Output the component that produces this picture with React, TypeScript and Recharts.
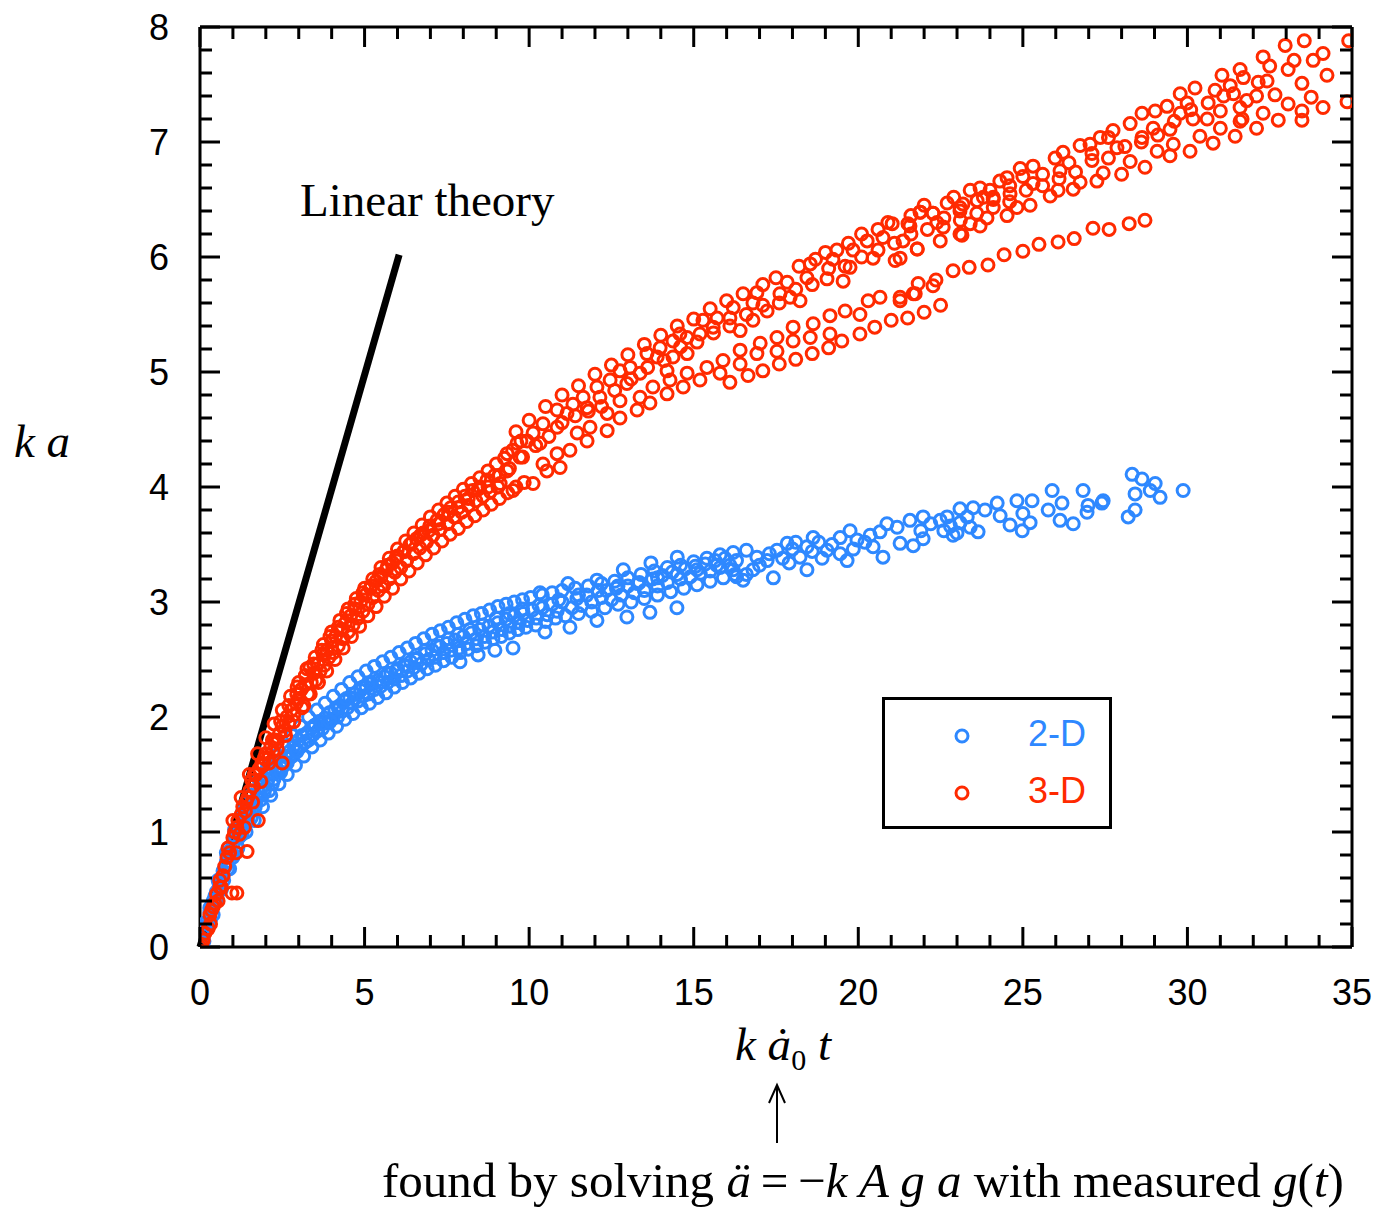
import React from 'react';
import { ScatterChart, Scatter, XAxis, YAxis, ReferenceLine, Legend } from 'recharts';

// axis ticks
const X_MAJOR = [0, 5, 10, 15, 20, 25, 30, 35];
const Y_MAJOR = [0, 1, 2, 3, 4, 5, 6, 7, 8];
const X_TICKS = Array.from({ length: 36 }, (_, i) => i);
const Y_TICKS = Array.from({ length: 41 }, (_, i) => Math.round(i * 2) / 10);

const SERIES_NAMES = ['2-D', '3-D'];
const COLORS = ['#2e88ff', '#ff2a00'];

// linear theory segment (k a = k a0 t)
const LINEAR_THEORY = [
  { x: 0, y: 0 },
  { x: 6.05, y: 6.02 },
];

// 2-D runs
const DATA_2D: [number, number][] = [
  [0, 0], [0.05, 0.04], [0.1, 0.1], [0.12, 0.05], [0.18, 0.16], [0.2, 0.22], [0.25, 0.2], [0.3, 0.3], [0.32, 0.24],
  [0.38, 0.36], [0.4, 0.4], [0.45, 0.38], [0.5, 0.48], [0.52, 0.42], [0.58, 0.55], [0.6, 0.5], [0.65, 0.6], [0.7, 0.66],
  [0.72, 0.58], [0.78, 0.7], [0.8, 0.74], [0.85, 0.68], [0.9, 0.8], [0.95, 0.85], [1.0, 0.78], [1.02, 0.9], [1.08, 0.95],
  [1.12, 0.88], [1.18, 1.0], [1.22, 1.04], [1.28, 0.98], [1.32, 1.1], [1.4, 1.08], [1.45, 1.16], [1.5, 1.2], [1.55, 1.12],
  [1.62, 1.26], [1.68, 1.22], [1.72, 1.3], [1.8, 1.34], [1.85, 1.28], [1.9, 1.4], [1.98, 1.38], [2.05, 1.45], [2.1, 1.36],
  [2.18, 1.5], [2.25, 1.46], [2.3, 1.55], [2.38, 1.52], [2.45, 1.6], [2.5, 1.56], [2.58, 1.66], [2.65, 1.6], [2.72, 1.7],
  [2.8, 1.66], [2.85, 1.75], [2.92, 1.72], [3.0, 1.8], [3.05, 1.74],
  [3.1, 1.84], [3.18, 1.78], [3.25, 1.86], [3.3, 1.8], [3.38, 1.9], [3.45, 1.85], [3.5, 1.93], [3.58, 1.88], [3.65, 1.96],
  [3.72, 1.9], [3.8, 1.99], [3.88, 1.95], [3.95, 2.04], [4.0, 1.98], [4.1, 2.06], [4.18, 2.0], [4.25, 2.1], [4.32, 2.05],
  [4.4, 2.14], [4.48, 2.08], [4.55, 2.17], [4.62, 2.12], [4.7, 2.2], [4.8, 2.14], [4.88, 2.23], [4.95, 2.18], [5.05, 2.26],
  [5.12, 2.2], [5.2, 2.29], [5.3, 2.24], [5.4, 2.32], [5.5, 2.27], [5.6, 2.35], [5.7, 2.3], [5.8, 2.38], [5.9, 2.33],
  [6.0, 2.42], [6.1, 2.36], [6.2, 2.45], [6.3, 2.4], [6.4, 2.48], [6.5, 2.43], [6.6, 2.51], [6.72, 2.46], [6.85, 2.55],
  [6.95, 2.5], [7.05, 2.58], [7.15, 2.52], [7.28, 2.61], [7.4, 2.56], [7.5, 2.64], [7.62, 2.58], [7.75, 2.67], [7.88, 2.6],
  [7.9, 2.48], [8.0, 2.7],
  [8.12, 2.64], [8.25, 2.73], [8.4, 2.68], [8.5, 2.76], [8.45, 2.54], [8.65, 2.7], [8.78, 2.79], [8.9, 2.74], [8.96, 2.58],
  [9.05, 2.82], [9.18, 2.76], [9.3, 2.85], [9.42, 2.79], [9.51, 2.6], [9.55, 2.88], [9.7, 2.82], [9.82, 2.9], [9.95, 2.84],
  [10.1, 2.93], [10.22, 2.86], [10.33, 3.08], [10.4, 2.95], [10.48, 2.74], [10.55, 2.89], [10.7, 2.98], [10.85, 2.92],
  [11.0, 3.0], [11.18, 3.16], [11.24, 2.78], [11.3, 2.95], [11.45, 3.03], [11.6, 2.97], [11.75, 3.06], [11.9, 3.0],
  [12.06, 3.19], [12.06, 2.84], [12.2, 3.04], [12.35, 3.1], [12.5, 3.02], [12.65, 3.12], [12.86, 3.28], [12.8, 3.06],
  [12.97, 2.87], [13.0, 3.14], [13.2, 3.08], [13.35, 3.17], [13.5, 3.1], [13.67, 2.91], [13.7, 3.34], [13.75, 3.2],
  [13.9, 3.14], [14.05, 3.23], [14.2, 3.17], [14.35, 3.26], [14.49, 2.95], [14.5, 3.39], [14.6, 3.2], [14.75, 3.29],
  [14.9, 3.22], [15.05, 3.31], [15.2, 3.25], [15.35, 3.33], [15.5, 3.27], [15.65, 3.36], [15.8, 3.3], [15.95, 3.38],
  [16.1, 3.32], [16.25, 3.24], [16.2, 3.28], [16.6, 3.24],
  [16.5, 3.19], [16.8, 3.28], [16.92, 3.39], [17.0, 3.32], [17.23, 3.36], [17.3, 3.42], [17.42, 3.21], [17.53, 3.45],
  [17.7, 3.38], [17.84, 3.51], [17.9, 3.34], [18.0, 3.46], [18.1, 3.52], [18.23, 3.39], [18.44, 3.28], [18.44, 3.48],
  [18.6, 3.44], [18.63, 3.56], [18.8, 3.52], [18.9, 3.38], [19.05, 3.45], [19.2, 3.5], [19.45, 3.42], [19.45, 3.56],
  [19.66, 3.36], [19.75, 3.62], [19.85, 3.46], [19.96, 3.54], [20.2, 3.52], [20.36, 3.58], [20.45, 3.48], [20.66, 3.61],
  [20.75, 3.39], [20.87, 3.68], [21.18, 3.65], [21.27, 3.51], [21.57, 3.71], [21.67, 3.49], [21.9, 3.62], [21.97, 3.55],
  [21.97, 3.74], [22.2, 3.68], [22.49, 3.71], [22.6, 3.62], [22.7, 3.74], [22.8, 3.66], [22.88, 3.58], [23.0, 3.6],
  [23.09, 3.69], [23.09, 3.81], [23.31, 3.74], [23.4, 3.65], [23.49, 3.82], [23.64, 3.61], [23.85, 3.8], [24.22, 3.86],
  [24.31, 3.75], [24.61, 3.67], [24.82, 3.88], [24.98, 3.62], [25.0, 3.77], [25.22, 3.69], [25.28, 3.88], [25.77, 3.8],
  [25.89, 3.97], [26.13, 3.71], [26.19, 3.86], [26.53, 3.68], [26.83, 3.97], [26.95, 3.78], [26.98, 3.84], [27.4, 3.86],
  [27.44, 3.88], [28.2, 3.74], [28.32, 4.11], [28.41, 3.8], [28.41, 3.94], [28.62, 4.07], [28.87, 3.97], [29.02, 4.03],
  [29.17, 3.91], [29.87, 3.97],
  // upper edge of the band
  [0.3, 0.34], [0.55, 0.58], [0.8, 0.82], [1.05, 1.02], [1.3, 1.18], [1.55, 1.32], [1.8, 1.45], [2.05, 1.56], [2.3, 1.66],
  [2.55, 1.75], [2.8, 1.84], [3.05, 1.92], [3.3, 2.0], [3.55, 2.06], [3.8, 2.12], [4.05, 2.18], [4.3, 2.24], [4.55, 2.3],
  [4.8, 2.35], [5.05, 2.4], [5.3, 2.44], [5.55, 2.48], [5.8, 2.52], [6.05, 2.56], [6.3, 2.6], [6.55, 2.64], [6.8, 2.68],
  [7.05, 2.72], [7.3, 2.75], [7.55, 2.78], [7.8, 2.82], [8.05, 2.85], [8.3, 2.88], [8.55, 2.9], [8.8, 2.93], [9.05, 2.96],
  [9.3, 2.98], [9.55, 3.0], [9.8, 3.02], [10.05, 3.04], [10.4, 3.06], [10.7, 3.08], [11.0, 3.1], [11.4, 3.12],
  [11.8, 3.14], [12.2, 3.16], [12.6, 3.18], [13.0, 3.21], [13.4, 3.24], [13.8, 3.27], [14.2, 3.3], [14.6, 3.32],
  [15.0, 3.35], [15.4, 3.38], [15.8, 3.41], [16.2, 3.43], [16.6, 3.45],
  // lower edge of the band
  [0.4, 0.28], [0.65, 0.5], [0.9, 0.68], [1.15, 0.86], [1.4, 1.0], [1.65, 1.1], [1.9, 1.22], [2.15, 1.32], [2.4, 1.42],
  [2.65, 1.5], [2.9, 1.58], [3.15, 1.66], [3.4, 1.74], [3.65, 1.8], [3.9, 1.86], [4.15, 1.92], [4.4, 1.98], [4.65, 2.03],
  [4.9, 2.08], [5.15, 2.12], [5.4, 2.17], [5.65, 2.21], [5.9, 2.26], [6.15, 2.3], [6.4, 2.34], [6.65, 2.38], [6.9, 2.42],
  [7.15, 2.45], [7.4, 2.49], [7.65, 2.52], [7.9, 2.56], [8.15, 2.59], [8.4, 2.62], [8.65, 2.65], [8.9, 2.68], [9.15, 2.7],
  [9.4, 2.73], [9.65, 2.76], [9.9, 2.78], [10.2, 2.8], [10.5, 2.83], [10.8, 2.86], [11.1, 2.88], [11.5, 2.9], [11.9, 2.92],
  [12.3, 2.95], [12.7, 2.98], [13.1, 3.0], [13.5, 3.03], [13.9, 3.06], [14.3, 3.09], [14.7, 3.12], [15.1, 3.15],
  [15.5, 3.18], [15.9, 3.21], [16.3, 3.22],
  // middle of the band
  [0.2, 0.16], [0.45, 0.44], [0.7, 0.62], [0.95, 0.8], [1.2, 0.96], [1.45, 1.1], [1.7, 1.26], [1.95, 1.34], [2.2, 1.42],
  [2.45, 1.52], [2.7, 1.64], [2.95, 1.7], [3.2, 1.78], [3.45, 1.92], [3.7, 1.94], [3.95, 1.96], [4.2, 2.08], [4.45, 2.16],
  [4.7, 2.16], [4.95, 2.26], [5.2, 2.3], [5.45, 2.3], [5.7, 2.38], [5.95, 2.4], [6.25, 2.44], [6.55, 2.5], [6.85, 2.58],
  [7.2, 2.62], [7.55, 2.68], [7.85, 2.72], [8.2, 2.76], [8.6, 2.8], [9.0, 2.86], [9.4, 2.9], [9.8, 2.94], [10.3, 2.97],
  [10.9, 3.02], [11.5, 3.06], [12.1, 3.1], [12.7, 3.14], [13.3, 3.16], [13.9, 3.21], [14.5, 3.24], [15.1, 3.28],
  [15.7, 3.32], [16.3, 3.36],
];

// 3-D runs
const DATA_3D: [number, number][] = [
  [0, 0], [0.05, 0.02], [0.1, 0.06], [0.15, 0.12], [0.25, 0.16], [0.3, 0.28], [0.32, 0.2], [0.4, 0.35], [0.45, 0.38],
  [0.5, 0.46], [0.55, 0.4], [0.6, 0.58], [0.65, 0.52], [0.7, 0.62], [0.75, 0.7], [0.82, 0.78], [0.9, 0.82], [0.97, 0.47],
  [1.12, 0.47], [1.0, 0.95], [1.05, 1.0], [1.12, 1.04], [1.2, 0.98], [1.25, 1.15], [1.3, 1.22], [1.38, 1.18], [1.43, 0.83],
  [1.45, 1.3], [1.52, 1.36], [1.57, 1.45], [1.62, 1.4], [1.7, 1.5], [1.77, 1.1], [1.8, 1.55], [1.88, 1.6], [1.92, 1.58],
  [2.0, 1.68], [2.08, 1.64], [2.15, 1.74], [2.22, 1.7], [2.28, 1.8], [2.35, 1.78], [2.42, 1.86], [2.5, 1.6], [2.5, 1.92],
  [2.58, 1.88], [2.64, 2.0], [2.7, 1.95], [2.78, 2.06], [2.85, 2.02], [2.94, 2.2], [2.92, 2.12], [3.0, 2.16],
  [3.08, 2.24], [3.15, 2.1], [3.2, 2.28], [3.28, 2.2], [3.34, 2.43], [3.38, 2.3], [3.45, 2.38], [3.52, 2.32], [3.58, 2.46],
  [3.65, 2.4], [3.74, 2.55], [3.78, 2.45], [3.85, 2.58], [3.92, 2.52], [4.0, 2.66], [4.05, 2.56], [4.12, 2.7], [4.2, 2.62],
  [4.28, 2.76], [4.35, 2.68], [4.42, 2.82], [4.5, 2.74], [4.58, 2.88], [4.65, 2.8], [4.72, 2.94], [4.8, 2.86], [4.88, 3.0],
  [4.95, 2.92], [5.02, 3.06], [5.1, 2.98], [5.18, 3.12], [5.25, 3.04], [5.35, 3.18], [5.42, 3.1], [5.5, 3.22], [5.58, 3.14],
  [5.66, 3.28], [5.75, 3.2], [5.85, 3.34], [5.92, 3.26], [6.0, 3.4], [6.1, 3.3], [6.2, 3.44], [6.28, 3.36], [6.38, 3.5],
  [6.48, 3.42], [6.58, 3.55], [6.68, 3.47], [6.78, 3.6], [6.88, 3.52], [6.98, 3.66], [7.08, 3.58], [7.2, 3.71], [7.3, 3.63],
  [7.42, 3.76], [7.52, 3.68], [7.62, 3.82], [7.72, 3.74], [7.85, 3.87], [7.95, 3.78], [8.05, 3.92], [8.15, 3.84],
  [8.28, 3.97], [8.38, 3.88], [8.5, 4.0], [8.6, 3.92], [8.72, 4.06], [8.82, 3.96], [8.95, 4.1], [9.05, 4.0],
  // upper edge, early times
  [1.0, 1.1], [1.25, 1.3], [1.5, 1.5], [1.75, 1.68], [2.0, 1.82], [2.25, 1.94], [2.5, 2.06], [2.75, 2.18], [3.0, 2.3],
  [3.25, 2.42], [3.5, 2.52], [3.75, 2.63], [4.0, 2.74], [4.25, 2.84], [4.5, 2.94], [4.75, 3.03], [5.0, 3.12], [5.25, 3.2],
  [5.5, 3.3], [5.75, 3.38], [6.0, 3.46], [6.25, 3.53], [6.5, 3.6], [6.75, 3.67], [7.0, 3.74], [7.25, 3.8], [7.5, 3.86],
  [7.75, 3.92], [8.0, 3.98], [8.25, 4.03], [8.5, 4.08], [8.75, 4.14], [9.0, 4.2], [9.25, 4.25], [9.5, 4.32], [9.75, 4.4],
  // lower edge, early times
  [1.1, 0.82], [1.35, 1.04], [1.6, 1.26], [1.85, 1.44], [2.1, 1.6], [2.35, 1.72], [2.6, 1.84], [2.85, 1.96], [3.1, 2.08],
  [3.35, 2.2], [3.6, 2.3], [3.85, 2.4], [4.1, 2.5], [4.35, 2.6], [4.6, 2.7], [4.85, 2.79], [5.1, 2.88], [5.35, 2.96],
  [5.6, 3.05], [5.85, 3.12], [6.1, 3.2], [6.35, 3.27], [6.6, 3.34], [6.85, 3.41], [7.1, 3.47], [7.35, 3.53], [7.6, 3.59],
  [7.85, 3.64], [8.1, 3.7], [8.35, 3.75], [8.6, 3.8], [8.85, 3.85], [9.1, 3.9], [9.35, 3.95], [9.6, 4.0], [9.85, 4.04],
  // middle of the band
  [0.35, 0.32], [0.6, 0.52], [0.85, 0.86], [1.15, 1.1], [1.4, 1.26], [1.65, 1.5], [1.95, 1.64], [2.2, 1.8], [2.45, 1.96],
  [2.7, 2.1], [2.95, 2.26], [3.2, 2.36], [3.45, 2.46], [3.7, 2.58], [3.95, 2.7], [4.2, 2.78], [4.45, 2.9], [4.7, 2.98],
  [4.95, 3.08], [5.2, 3.14], [5.45, 3.24], [5.7, 3.32], [5.95, 3.38], [6.2, 3.44], [6.45, 3.52], [6.7, 3.58], [6.95, 3.62],
  [7.25, 3.68], [7.55, 3.78], [7.85, 3.82], [8.15, 3.9], [8.45, 3.98], [8.75, 4.0], [9.1, 4.1], [9.4, 4.16], [9.8, 4.26],
  [10.2, 4.36], [10.6, 4.44], [11.0, 4.56], [11.4, 4.62], [11.8, 4.66], [12.2, 4.7], [12.6, 4.84], [13.1, 4.94],
  [13.6, 5.04], [14.1, 5.1], [14.6, 5.22], [15.1, 5.26], [15.6, 5.34], [16.1, 5.4], [16.6, 5.5], [17.1, 5.58], [17.6, 5.6],
  [18.1, 5.72], [18.6, 5.76], [19.1, 5.9], [19.6, 5.92], [20.1, 6.0], [20.6, 6.06], [21.1, 6.12], [21.6, 6.2], [22.1, 6.24],
  [22.6, 6.34], [23.1, 6.32], [23.6, 6.38], [24.1, 6.5], [24.6, 6.48], [25.1, 6.58], [25.6, 6.62], [26.1, 6.68],
  [26.6, 6.74], [27.1, 6.9], [27.6, 6.86], [28.1, 6.96], [28.6, 7.0], [29.1, 7.06], [29.6, 7.18], [30.1, 7.28],
  [30.6, 7.2], [31.1, 7.4], [31.6, 7.3], [32.1, 7.4],
  // upper band
  [9.12, 4.03], [9.33, 4.29], [9.33, 4.14], [9.51, 3.97], [9.6, 4.48], [9.63, 4.38], [9.72, 4.26], [9.94, 4.4], [10.0, 4.58],
  [10.12, 4.47], [10.12, 4.03], [10.33, 4.38], [10.42, 4.55], [10.5, 4.7], [10.54, 4.14], [10.85, 4.67], [10.85, 4.52],
  [11.0, 4.8], [11.15, 4.64], [11.33, 4.72], [11.5, 4.88], [11.64, 4.78], [11.76, 4.69], [12.0, 4.98], [12.06, 4.87],
  [12.15, 4.78], [12.46, 4.93], [12.5, 5.06], [12.76, 5.01], [12.97, 4.9], [13.0, 5.15], [13.07, 5.04], [13.37, 4.99],
  [13.5, 5.24], [13.58, 5.16], [13.89, 5.13], [13.98, 5.21], [14.0, 5.32], [14.19, 5.01], [14.37, 5.27], [14.37, 5.13],
  [14.5, 5.4], [14.58, 5.33], [14.8, 5.3], [14.8, 5.16], [15.0, 5.46], [15.19, 5.33], [15.28, 5.45], [15.5, 5.55],
  [15.59, 5.39], [15.71, 5.47], [16.0, 5.62], [16.1, 5.47], [16.2, 5.56], [16.41, 5.36], [16.5, 5.68], [16.8, 5.6],
  [16.8, 5.45], [16.92, 5.69], [17.1, 5.76], [17.23, 5.53], [17.5, 5.82], [17.62, 5.68], [17.84, 5.78], [17.93, 5.65],
  [18.2, 5.92], [18.23, 5.62], [18.44, 5.82], [18.54, 5.94], [18.7, 5.98], [19.0, 6.04], [19.05, 5.81], [19.23, 5.98],
  [19.35, 6.06], [19.54, 5.79], [19.7, 6.12], [19.75, 5.91], [19.84, 6.06], [20.1, 6.2], [20.27, 6.14], [20.45, 5.99],
  [20.6, 6.24], [20.75, 6.17], [20.9, 6.3], [21.03, 6.29], [21.12, 5.97], [21.36, 6.14], [21.57, 6.27], [21.6, 6.36],
  [21.79, 6.07], [21.88, 6.39], [22.0, 6.45], [22.27, 6.38], [22.58, 6.26], [22.9, 6.52], [23.09, 6.43], [23.15, 6.19],
  [23.7, 6.27], [23.8, 6.52], [24.0, 6.58], [24.1, 6.43], [24.6, 6.62], [25.0, 6.7], [25.6, 6.72], [26.4, 6.82],
  // middle band
  [10.42, 4.2], [10.94, 4.17], [10.85, 4.29], [11.24, 4.32], [11.46, 4.47], [11.76, 4.4], [11.85, 4.52], [12.37, 4.49],
  [12.37, 4.64], [12.76, 4.6], [12.76, 4.75], [13.28, 4.67], [13.37, 4.78], [13.67, 4.73], [13.76, 4.87], [14.19, 4.81],
  [14.28, 4.93], [14.68, 4.87], [14.8, 4.99], [15.19, 4.93], [15.4, 5.04], [15.8, 4.99], [15.89, 5.1], [16.41, 5.07],
  [16.41, 5.19], [16.92, 5.16], [17.02, 5.25], [17.53, 5.18], [17.53, 5.3], [18.02, 5.27], [18.02, 5.39], [18.54, 5.3],
  [18.63, 5.42], [19.14, 5.33], [19.14, 5.49], [19.6, 5.53], [20.05, 5.5], [20.3, 5.62], [20.66, 5.65], [21.27, 5.62],
  [21.67, 5.68], [22.27, 5.75],
  // trail ending near 22.5
  [16.1, 4.91], [16.65, 4.97], [17.1, 5.01], [17.6, 5.07], [18.1, 5.11], [18.6, 5.16], [19.1, 5.21], [19.5, 5.27],
  [20.05, 5.33], [20.5, 5.39], [21.0, 5.45], [21.5, 5.47], [22.0, 5.52], [22.5, 5.58],
  // trail ending near 28.7
  [21.27, 5.65], [21.73, 5.68], [21.82, 5.77], [22.36, 5.8], [22.88, 5.88], [23.37, 5.91], [23.94, 5.93], [24.43, 6.02],
  [25.0, 6.05], [25.49, 6.11], [26.07, 6.13], [26.56, 6.16], [27.13, 6.25], [27.62, 6.24], [28.23, 6.29], [28.71, 6.32],
  // late times
  [21.27, 5.99], [21.51, 6.29], [21.79, 6.07], [21.88, 6.39], [22.27, 6.38], [22.39, 6.3], [22.49, 6.14], [22.7, 6.47],
  [23.09, 6.2], [23.09, 6.4], [23.18, 6.46], [23.4, 6.29], [23.4, 6.58], [23.61, 6.49], [23.7, 6.6], [23.91, 6.34],
  [24.1, 6.52], [24.3, 6.66], [24.52, 6.36], [24.52, 6.69], [24.61, 6.55], [24.82, 6.43], [24.92, 6.77], [25.22, 6.45],
  [25.31, 6.64], [25.31, 6.79], [25.83, 6.53], [25.98, 6.86], [26.07, 6.58], [26.13, 6.75], [26.22, 6.91], [26.53, 6.59],
  [26.74, 6.65], [26.74, 6.97], [27.04, 6.98], [27.1, 6.84], [27.25, 6.66], [27.35, 7.04], [27.44, 6.73], [27.6, 7.04],
  [27.74, 7.1], [27.86, 6.95], [28.0, 6.72], [28.26, 6.83], [28.26, 7.16], [28.62, 7.04], [28.62, 7.25], [28.71, 6.78],
  [28.96, 7.12], [29.02, 7.27], [29.08, 6.92], [29.38, 7.31], [29.47, 6.88], [29.47, 7.11], [29.57, 6.98], [29.78, 7.25],
  [29.78, 7.42], [29.99, 7.34], [30.08, 6.92], [30.17, 7.2], [30.23, 7.47], [30.38, 7.05], [30.63, 7.34], [30.78, 6.99],
  [30.84, 7.45], [31.0, 7.12], [31.0, 7.27], [31.05, 7.58], [31.3, 7.49], [31.4, 7.42], [31.45, 7.05], [31.6, 7.18],
  [31.6, 7.63], [31.66, 7.2], [31.7, 7.56], [31.8, 7.36], [32.1, 7.12], [32.15, 7.52], [32.3, 7.25], [32.3, 7.74],
  [32.42, 7.53], [32.5, 7.66], [32.66, 7.41], [32.76, 7.19], [32.97, 7.84], [33.06, 7.33], [33.06, 7.63], [33.24, 7.71],
  [33.48, 7.19], [33.48, 7.27], [33.48, 7.51], [33.55, 7.88], [33.76, 7.39], [33.82, 7.71], [34.12, 7.3], [34.12, 7.77],
  [34.24, 7.58], [34.85, 7.35], [34.9, 7.88],
];

const W = 1378;
const H = 1209;
const PLOT_LEFT = 200;
const PLOT_RIGHT = 1352;
const PLOT_TOP = 27;
const PLOT_BOTTOM = 947;
const X_AXIS_H = 40;
const Y_AXIS_W = 60;
const MAJOR_LEN = 20;
const MINOR_LEN = 12;
const SANS = '"Liberation Sans", Arial, Helvetica, sans-serif';
const SERIF = '"Liberation Serif", "Times New Roman", serif';

const toPoints = (rows: [number, number][]) => rows.map(([x, y]) => ({ x, y }));

const XTick = (props: any) => {
  const { x, payload } = props;
  const v = payload.value;
  const major = X_MAJOR.includes(v);
  const len = major ? MAJOR_LEN : MINOR_LEN;
  return (
    <g>
      <line x1={x} x2={x} y1={PLOT_BOTTOM} y2={PLOT_BOTTOM - len} stroke="#000" strokeWidth={3} />
      <line x1={x} x2={x} y1={PLOT_TOP} y2={PLOT_TOP + len} stroke="#000" strokeWidth={3} />
      {major && (
        <text x={x} y={PLOT_BOTTOM + 58} textAnchor="middle" fontSize={36} fontFamily={SANS} fill="#000">
          {v}
        </text>
      )}
    </g>
  );
};

const YTick = (props: any) => {
  const { y, payload } = props;
  const v = payload.value;
  const major = Y_MAJOR.includes(v);
  const len = major ? MAJOR_LEN : MINOR_LEN;
  return (
    <g>
      <line x1={PLOT_LEFT} x2={PLOT_LEFT + len} y1={y} y2={y} stroke="#000" strokeWidth={3} />
      <line x1={PLOT_RIGHT} x2={PLOT_RIGHT - len} y1={y} y2={y} stroke="#000" strokeWidth={3} />
      {major && (
        <text x={PLOT_LEFT - 31} y={y + 13} textAnchor="end" fontSize={36} fontFamily={SANS} fill="#000">
          {v}
        </text>
      )}
    </g>
  );
};

const ring = (color: string) => (props: any) => (
  <circle cx={props.cx} cy={props.cy} r={6} fill="none" stroke={color} strokeWidth={3} />
);

const LegendBox = () => (
  <div
    style={{
      width: 230,
      height: 132,
      boxSizing: 'border-box',
      border: '3px solid #000',
      background: '#fff',
      position: 'relative',
      fontFamily: SANS,
      fontSize: 36,
    }}
  >
    {SERIES_NAMES.map((name, i) => (
      <div key={name} style={{ position: 'absolute', left: 0, top: 14 + i * 57, height: 42, width: '100%' }}>
        <svg width={20} height={20} style={{ position: 'absolute', left: 67, top: 12 }}>
          <circle cx={10} cy={10} r={6} fill="none" stroke={COLORS[i]} strokeWidth={3} />
        </svg>
        <span style={{ position: 'absolute', left: 143, top: 0, lineHeight: '40px', color: COLORS[i] }}>{name}</span>
      </div>
    ))}
  </div>
);

export default function App() {
  return (
    <div style={{ position: 'absolute', left: 0, top: 0, width: W, height: H, background: '#fff' }}>
      <ScatterChart
        width={W}
        height={H}
        margin={{
          top: PLOT_TOP,
          right: W - PLOT_RIGHT,
          bottom: H - PLOT_BOTTOM - X_AXIS_H,
          left: PLOT_LEFT - Y_AXIS_W,
        }}
      >
        <XAxis
          type="number"
          dataKey="x"
          domain={[0, 35]}
          ticks={X_TICKS}
          interval={0}
          allowDataOverflow
          height={X_AXIS_H}
          tickSize={0}
          tickMargin={0}
          tickLine={false}
          axisLine={{ stroke: '#000', strokeWidth: 3 }}
          tick={XTick}
        />
        <YAxis
          type="number"
          dataKey="y"
          domain={[0, 8]}
          ticks={Y_TICKS}
          interval={0}
          allowDataOverflow
          width={Y_AXIS_W}
          tickSize={0}
          tickMargin={0}
          tickLine={false}
          axisLine={{ stroke: '#000', strokeWidth: 3 }}
          tick={YTick}
        />
        <ReferenceLine y={8} stroke="#000" strokeWidth={3} />
        <ReferenceLine x={35} stroke="#000" strokeWidth={3} />
        <ReferenceLine segment={LINEAR_THEORY} stroke="#000" strokeWidth={7} />
        <Scatter
          name={SERIES_NAMES[0]}
          data={toPoints(DATA_2D)}
          shape={ring(COLORS[0])}
          isAnimationActive={false}
        />
        <Scatter
          name={SERIES_NAMES[1]}
          data={toPoints(DATA_3D)}
          shape={ring(COLORS[1])}
          isAnimationActive={false}
        />
        <Legend
          layout="vertical"
          align="center"
          verticalAlign="middle"
          wrapperStyle={{ position: 'absolute', left: 882, top: 697, width: 230, height: 132 }}
          content={() => <LegendBox />}
        />
      </ScatterChart>
      <svg
        width={W}
        height={H}
        style={{ position: 'absolute', left: 0, top: 0, pointerEvents: 'none' }}
        fontFamily={SERIF}
      >
        <text x={300} y={216} fontSize={47} fill="#000">
          Linear theory
        </text>
        <text x={14} y={457} fontSize={47} fontStyle="italic" fill="#000">
          k a
        </text>
        <text x={735} y={1060} fontSize={47} fill="#000">
          <tspan fontStyle="italic">k ȧ</tspan>
          <tspan fontSize={30} dy={10}>0</tspan>
          <tspan fontStyle="italic" dy={-10}> t</tspan>
        </text>
        <line x1={777} x2={777} y1={1143} y2={1086} stroke="#000" strokeWidth={2} />
        <polyline points="769,1103 777,1085 785,1103" fill="none" stroke="#000" strokeWidth={2} />
        <text x={382} y={1197} fontSize={49} fill="#000">
          <tspan>found by solving </tspan>
          <tspan fontStyle="italic">ä</tspan>
          <tspan>{'\u2009=\u2009\u2212'}</tspan>
          <tspan fontStyle="italic">k A g a</tspan>
          <tspan> with measured </tspan>
          <tspan fontStyle="italic">g</tspan>
          <tspan>(</tspan>
          <tspan fontStyle="italic">t</tspan>
          <tspan>)</tspan>
        </text>
      </svg>
    </div>
  );
}
